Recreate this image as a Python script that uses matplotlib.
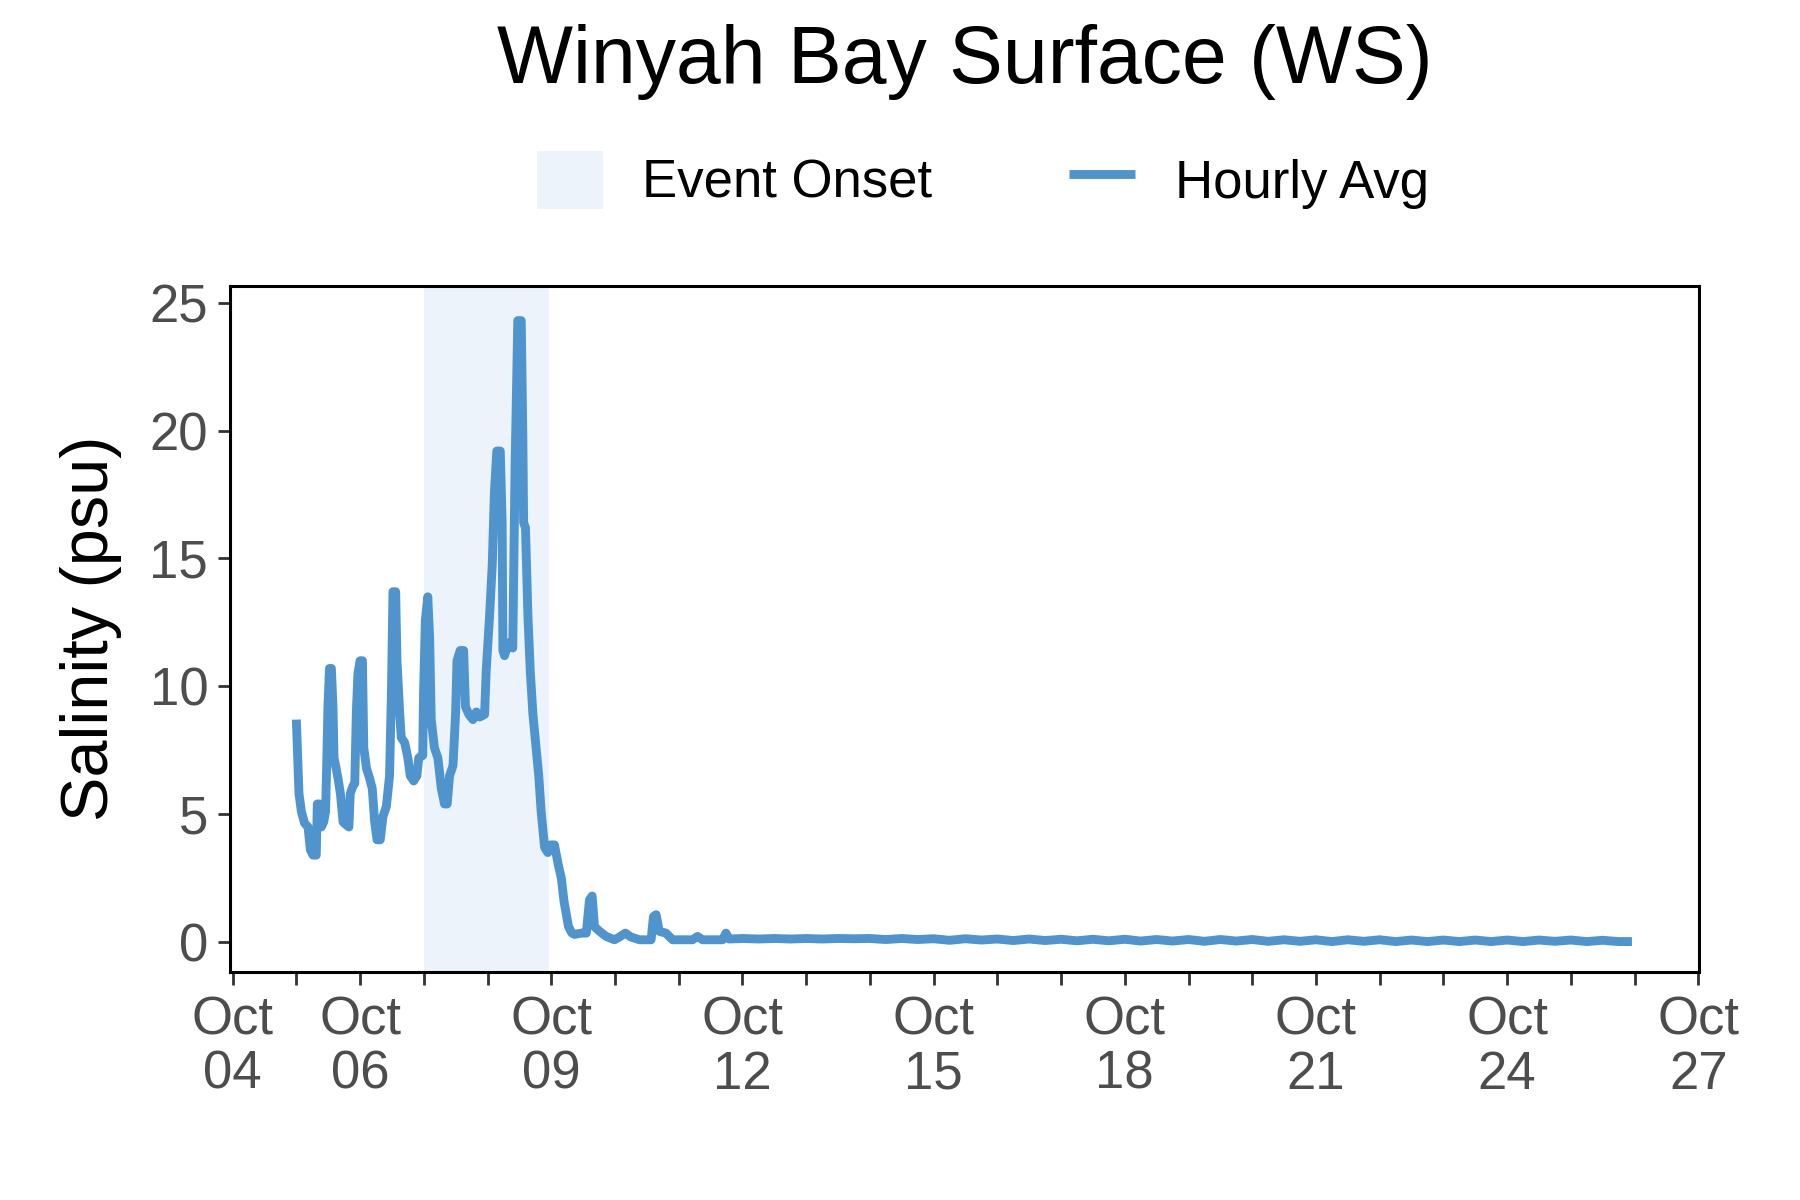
import numpy as np
import matplotlib
matplotlib.use('Agg')
import matplotlib.pyplot as plt
from matplotlib.patches import Patch
from matplotlib.lines import Line2D

plt.rcParams['font.family'] = ['Liberation Sans', 'DejaVu Sans']

# hours since Oct 05 00:00 and salinity (psu)
event_hours = [0, 1.0, 1.9, 3.1, 4.4, 5.3, 6.3, 7.5, 7.9, 8.8, 9.4, 10.3, 11.0, 11.5, 11.9,
               12.5, 13.2, 13.8, 14.2, 14.8, 15.7, 16.6, 17.6, 18.6, 19.8, 20.3, 21.3, 22.0,
               22.6, 23.2, 24.0, 24.9, 25.4, 26.4, 27.6, 28.6, 29.5, 30.4, 31.6, 32.6, 33.9,
               35.1, 35.8, 36.4, 37.4, 37.9, 38.9, 39.5, 40.8, 42.0, 42.9, 44.2, 45.4, 46.1,
               47.6, 47.9, 48.6, 49.5, 50.2, 50.8, 52.0, 53.3, 54.6, 55.8, 56.8, 57.7, 59.0,
               60.0, 60.5, 61.7, 63.0, 63.7, 65.0, 66.5, 67.8, 69.0, 70.9, 71.5, 72.8, 73.8,
               74.6, 75.5, 76.8, 77.5, 77.8, 78.4, 79.3, 80.0, 81.5, 81.9, 82.4, 83.4, 84.7,
               85.3, 85.6, 86.3, 87.2, 88.1, 89.1, 90.1, 91.3, 92.2, 93.5, 94.7, 95.7, 97.2,
               98.7, 99.8, 100.8, 102.5, 103.8, 104.8, 107.3, 109.2, 110.4, 111.4, 112.3,
               114.2, 116.7, 119.8, 121.7, 123.9, 126.0, 129.2, 133.6, 134.5, 135.5, 136.7,
               139.2, 141.7, 149.2, 151.1, 153.0, 160.5, 161.8, 163.0]
event_sal = [8.7, 5.8, 5.1, 4.65, 4.5, 3.6, 3.4, 3.4, 5.4, 5.4, 4.5, 4.7, 5.1, 7.2, 9.2,
             10.7, 10.7, 9.2, 7.2, 6.9, 6.4, 5.8, 4.7, 4.6, 4.5, 5.8, 6.1, 6.2,
             9.0, 10.5, 11.0, 11.0, 7.6, 6.8, 6.4, 6.0, 4.7, 4.0, 4.0, 4.9, 5.3,
             6.5, 9.7, 13.7, 13.7, 11.0, 9.0, 8.0, 7.8, 7.2, 6.5, 6.3, 6.5, 7.2,
             7.3, 9.7, 12.6, 13.5, 11.9, 8.7, 7.6, 7.2, 6.0, 5.4, 5.4, 6.5, 6.9,
             9.0, 11.0, 11.4, 11.4, 9.2, 8.9, 8.7, 9.0, 8.8, 8.9, 10.6, 12.8, 14.8,
             17.6, 19.2, 19.2, 16.4, 11.4, 11.2, 11.5, 11.7, 11.5, 14.6, 18.7, 24.3, 24.3,
             19.8, 16.4, 16.2, 12.8, 10.6, 8.9, 7.8, 6.5, 5.1, 3.7, 3.5, 3.8, 3.8,
             3.0, 2.5, 1.6, 0.6, 0.35, 0.3, 0.35, 0.35, 1.65, 1.8, 0.6,
             0.42, 0.22, 0.09, 0.2, 0.35, 0.2, 0.09, 0.09, 1.0, 1.07, 0.42,
             0.35, 0.09, 0.09, 0.22, 0.09, 0.09, 0.35, 0.12]

# Oct 12 00:00 onward, every 6 h
tail_sal = [0.14, 0.12, 0.14, 0.12,
            0.14, 0.12, 0.14, 0.13,
            0.14, 0.10, 0.14, 0.10,
            0.13, 0.07, 0.13, 0.08,
            0.12, 0.06, 0.12, 0.06,
            0.11, 0.05, 0.11, 0.05,
            0.11, 0.04, 0.10, 0.04,
            0.10, 0.03, 0.10, 0.04,
            0.10, 0.03, 0.09, 0.03,
            0.09, 0.02, 0.09, 0.03,
            0.09, 0.02, 0.08, 0.02,
            0.08, 0.02, 0.08, 0.02,
            0.08, 0.02, 0.08, 0.03,
            0.08, 0.02, 0.07, 0.02]
tail_hours = list(168 + 6 * np.arange(len(tail_sal)))
last_hour, last_sal = 503, 0.02

hours = event_hours + tail_hours + [last_hour]
sal = event_sal + tail_sal + [last_sal]

start = np.datetime64('2015-10-05T00:00')
times = start + (np.array(hours) * 60).astype('timedelta64[m]')

onset_start = np.datetime64('2015-10-07T00:00')
onset_end = np.datetime64('2015-10-08T23:00')

label_days = [4, 6, 9, 12, 15, 18, 21, 24, 27]

line_col = '#5094CE'
shade_col = '#ECF3FA'

fig = plt.figure(figsize=(9, 6), dpi=200)
ax = fig.add_axes([0.128, 0.19, 0.816, 0.572])

ax.axvspan(onset_start, onset_end, color=shade_col, lw=0, zorder=0)
ax.plot(times, sal, color=line_col, lw=3.2, solid_joinstyle='round',
        solid_capstyle='butt', zorder=2)

ax.set_xlim(np.datetime64('2015-10-03T23:10'), np.datetime64('2015-10-27T00:20'))
ax.set_ylim(-1.17, 25.67)

day_ticks = [np.datetime64('2015-10-%02d' % d) for d in range(4, 28)]
ax.set_xticks(day_ticks)
ax.set_xticklabels(['Oct\n%02d' % d if d in label_days else '' for d in range(4, 28)])
ax.set_yticks([0, 5, 10, 15, 20, 25])

ax.tick_params(axis='both', length=4.5, width=1.0, color='#333333',
               labelcolor='#4D4D4D', labelsize=19)
ax.tick_params(axis='x', pad=4)
for lab in ax.get_xticklabels():
    lab.set_linespacing(1.1)

for s in ax.spines.values():
    s.set_linewidth(1.1)
    s.set_color('black')

ax.set_ylabel('Salinity (psu)', fontsize=24, labelpad=10)

fig.suptitle('Winyah Bay Surface (WS)', x=0.536, y=0.98, fontsize=29)

handles = [Patch(facecolor=shade_col, edgecolor='none'),
           Line2D([0], [0], color=line_col, lw=3.2, solid_capstyle='butt')]
fig.legend(handles, ['Event Onset', 'Hourly Avg'], loc='center', ncol=2,
           bbox_to_anchor=(0.546, 0.85), frameon=False, fontsize=19,
           handlelength=1.25, handleheight=1.3, handletextpad=0.75, columnspacing=2.6)

fig.savefig('out.png', dpi=200)
